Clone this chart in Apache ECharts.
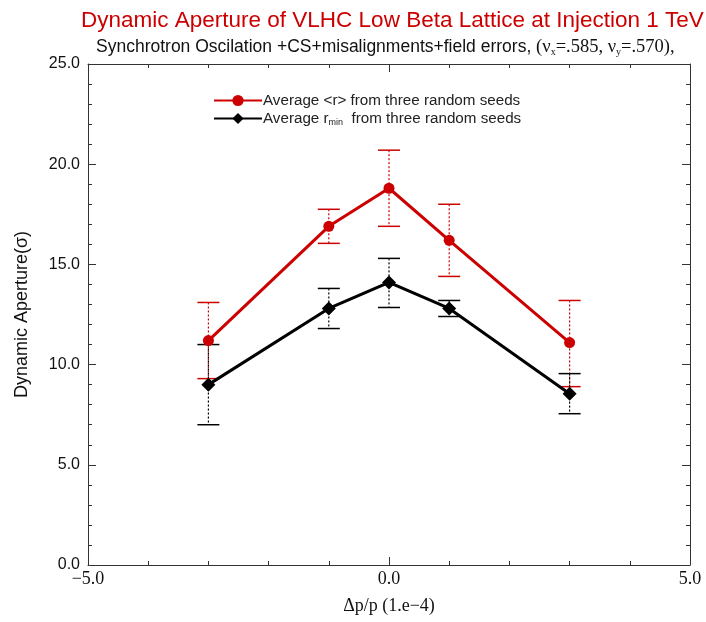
<!DOCTYPE html>
<html>
<head>
<meta charset="utf-8">
<script src="https://cdn.jsdelivr.net/npm/echarts@6/dist/echarts.min.js"></script>
<style>
html, body { margin: 0; padding: 0; background: #fff; }
#chart { width: 706px; height: 622px; }
</style>
</head>
<body>
<div id="chart"></div>
<script>
// dp/p positions (1e-4)
var dpp = [-3, -1, 0, 1, 3];

// Average <r> and its spread
var avgR = [11.2, 16.9, 18.8, 16.2, 11.1];
var avgRLow = [9.3, 16.05, 16.9, 14.4, 8.9];
var avgRHigh = [13.1, 17.75, 20.7, 18.0, 13.2];

// Average r_min and its spread
var rMin = [9.0, 12.8, 14.1, 12.8, 8.55];
var rMinLow = [7.0, 11.8, 12.85, 12.4, 7.55];
var rMinHigh = [11.0, 13.8, 15.3, 13.2, 9.55];

var RED = '#cc0000';
var SANS = 'Liberation Sans, Arial, sans-serif';
var SERIF = 'Liberation Serif, Times New Roman, serif';

var chart = echarts.init(document.getElementById('chart'));

function pairs(xs, ys) {
	return xs.map(function (x, i) { return [x, ys[i]]; });
}

function errData(xs, lo, hi) {
	return xs.map(function (x, i) { return [x, lo[i], hi[i]]; });
}

// error bar: dotted vertical, solid caps
function errorBar(color) {
	return function (params, api) {
		var top = api.coord([api.value(0), api.value(2)]);
		var bot = api.coord([api.value(0), api.value(1)]);
		var half = 11;
		return {
			type: 'group',
			children: [
				{ type: 'line', shape: { x1: top[0], y1: top[1], x2: bot[0], y2: bot[1] },
					style: { stroke: color, lineWidth: 1.2, lineDash: [2, 2] } },
				{ type: 'line', shape: { x1: top[0] - half, y1: top[1], x2: top[0] + half, y2: top[1] },
					style: { stroke: color, lineWidth: 1.5 } },
				{ type: 'line', shape: { x1: bot[0] - half, y1: bot[1], x2: bot[0] + half, y2: bot[1] },
					style: { stroke: color, lineWidth: 1.5 } }
			]
		};
	};
}

function fmt(v) {
	return v.toFixed(1).replace('-', '\u2212');
}

var axisLine = { show: true, onZero: false, lineStyle: { color: '#333', width: 1 } };
var tick = { show: true, inside: true, length: 8, lineStyle: { color: '#333' } };
var minor = { show: true, splitNumber: 5, length: 4, lineStyle: { color: '#333' } };

var option = {
	animation: false,
	title: [
		{
			text: 'Dynamic Aperture of VLHC Low Beta Lattice at Injection 1 TeV',
			left: 76,
			top: 4,
			textStyle: { color: RED, fontSize: 22.5, fontWeight: 'normal', fontFamily: SANS }
		},
		{
			text: '{a|Synchrotron Oscilation +CS+misalignments+field errors, }{b|(\u03bd}{s|x}{b|=.585, \u03bd}{s|y}{b|=.570),}',
			left: 91,
			top: 32,
			textStyle: {
				fontWeight: 'normal',
				rich: {
					a: { fontSize: 17.5, fontFamily: SANS, fontWeight: 'normal', color: '#111' },
					b: { fontSize: 18.5, fontFamily: SERIF, fontWeight: 'normal', color: '#111' },
					s: { fontSize: 10, fontFamily: SERIF, fontWeight: 'normal', color: '#111', padding: [10, 0, 0, 0] }
				}
			}
		}
	],
	legend: {
		left: 208,
		top: 88,
		orient: 'vertical',
		itemGap: 3,
		itemWidth: 48,
		itemHeight: 14,
		itemStyle: { borderWidth: 0 },
		data: ['avgR', 'rMin'],
		formatter: function (name) {
			if (name === 'avgR') return '{n|Average <r> from three random seeds}';
			return '{n|Average r}{s|min}{n|  from three random seeds}';
		},
		textStyle: {
			padding: [0, 0, 0, -4],
			rich: {
				n: { fontSize: 15.2, fontFamily: SANS, color: '#222' },
				s: { fontSize: 9, fontFamily: SANS, color: '#222', padding: [9, 0, 0, 0] }
			}
		}
	},
	grid: { left: 88, right: 16, top: 64, bottom: 57 },
	xAxis: [
		{
			type: 'value', min: -5, max: 5, interval: 5,
			axisLine: axisLine,
			axisTick: tick,
			minorTick: minor,
			splitLine: { show: false },
			axisLabel: { formatter: fmt, fontSize: 18, fontFamily: SERIF, color: '#111', margin: 5 },
			name: '\u0394p/p (1.e\u22124)',
			nameLocation: 'middle',
			nameGap: 32,
			nameTextStyle: { fontSize: 18, fontFamily: SERIF, color: '#111' }
		},
		{
			type: 'value', min: -5, max: 5, interval: 5, position: 'top',
			axisLine: axisLine,
			axisTick: tick,
			minorTick: minor,
			splitLine: { show: false },
			axisLabel: { show: false }
		}
	],
	yAxis: [
		{
			type: 'value', min: 0, max: 25, interval: 5,
			axisLine: axisLine,
			axisTick: tick,
			minorTick: minor,
			splitLine: { show: false },
			axisLabel: { formatter: fmt, fontSize: 16, fontFamily: SANS, color: '#111', margin: 8 },
			name: 'Dynamic Aperture(\u03c3)',
			nameLocation: 'middle',
			nameGap: 57,
			nameRotate: 90,
			nameTextStyle: { fontSize: 18, fontFamily: SANS, color: '#111' }
		},
		{
			type: 'value', min: 0, max: 25, interval: 5, position: 'right',
			axisLine: axisLine,
			axisTick: tick,
			minorTick: minor,
			splitLine: { show: false },
			axisLabel: { show: false }
		}
	],
	series: [
		{
			type: 'custom',
			name: 'errR',
			renderItem: errorBar(RED),
			data: errData(dpp, avgRLow, avgRHigh),
			z: 1
		},
		{
			type: 'custom',
			name: 'errMin',
			renderItem: errorBar('#000'),
			data: errData(dpp, rMinLow, rMinHigh),
			z: 1
		},
		{
			type: 'line',
			name: 'avgR',
			data: pairs(dpp, avgR),
			symbol: 'circle',
			symbolSize: 11,
			color: RED,
			lineStyle: { color: RED, width: 3 },
			itemStyle: { color: RED },
			z: 3
		},
		{
			type: 'line',
			name: 'rMin',
			data: pairs(dpp, rMin),
			symbol: 'diamond',
			symbolSize: 14,
			color: '#000',
			lineStyle: { color: '#000', width: 3 },
			itemStyle: { color: '#000' },
			z: 3
		}
	]
};

chart.setOption(option);
</script>
</body>
</html>
